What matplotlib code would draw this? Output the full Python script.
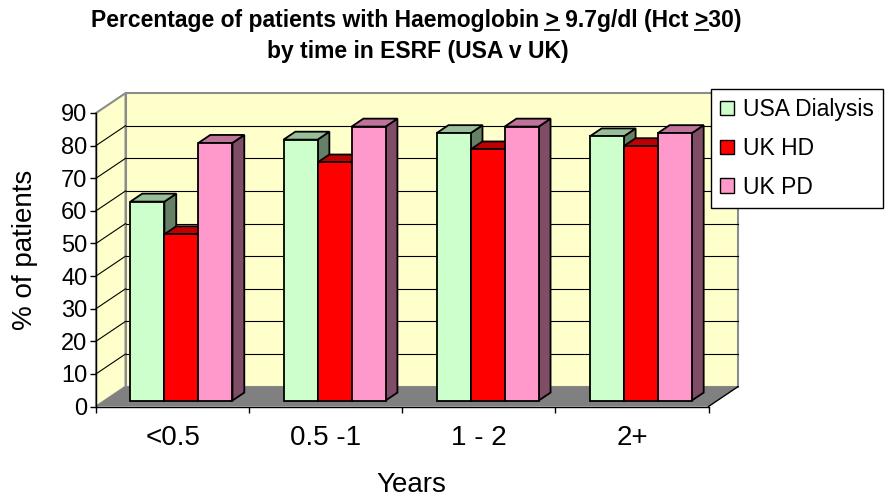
import matplotlib
matplotlib.use('Agg')
import matplotlib.pyplot as plt
from matplotlib.patches import Polygon, Patch
from matplotlib.lines import Line2D
from matplotlib.transforms import IdentityTransform

# ---------------- data ----------------
categories = ['<0.5', '0.5 -1', '1 - 2', '2+']
series_names = ['USA Dialysis', 'UK HD', 'UK PD']
usa_dialysis = [61, 80, 82, 81]
uk_hd = [51, 73, 77, 78]
uk_pd = [79, 84, 84, 82]
y_ticks = [0, 10, 20, 30, 40, 50, 60, 70, 80, 90]
title_line1 = 'Percentage of patients with Haemoglobin > 9.7g/dl (Hct >30)'
title_line2 = 'by time in ESRF (USA v UK)'
y_label = '% of patients'
x_label = 'Years'

# ---------------- style ----------------
front_colors = ['#CCFFCC', '#FF0000', '#FF99CC']
top_colors = ['#99BF99', '#BF0000', '#BF7399']
side_colors = ['#668066', '#800000', '#804D66']
wall_color = '#FFFFCC'
floor_color = '#808080'
wall_edge = '#8C8C8C'

plt.rcParams['font.family'] = ['Liberation Sans', 'DejaVu Sans']

W, H = 888, 497
fig = plt.figure(figsize=(W / 100, H / 100), dpi=100)
fig.patch.set_facecolor('white')


def fx(px):
    return px / W


def fy(py):
    return 1 - py / H


# front plane of the 3-D box
ax = fig.add_axes([fx(96), fy(406.5), (708.5 - 96) / W, (406.5 - 113) / H])
n = len(categories)
ymax = y_ticks[-1]
ax.set_xlim(0, n)
ax.set_ylim(0, ymax)
ax.patch.set_visible(False)
for s in ('top', 'right'):
    ax.spines[s].set_visible(False)
for s in ('left', 'bottom'):
    ax.spines[s].set_color('black')
    ax.spines[s].set_linewidth(1.0)
    ax.spines[s].set_zorder(5)

# depth offsets (full depth of the box) in data units
DX = 0.193
DY = 6.1
Z0, Z1 = 0.3, 0.7  # bar front / back depth fraction

# walls and floor
ax.add_patch(Polygon([(0, 0), (DX, DY), (DX, ymax + DY), (0, ymax)],
                     closed=True, fc=wall_color, ec=wall_edge, lw=1.5,
                     clip_on=False, zorder=1))
ax.add_patch(Polygon([(DX, DY), (n + DX, DY), (n + DX, ymax + DY), (DX, ymax + DY)],
                     closed=True, fc=wall_color, ec=wall_edge, lw=1.5,
                     clip_on=False, zorder=1))
ax.add_patch(Polygon([(0, 0), (n, 0), (n + DX, DY), (DX, DY)],
                     closed=True, fc=floor_color, ec='none',
                     clip_on=False, zorder=1.2))
ax.plot([n, n + DX], [0, DY], color='black', lw=1.0, clip_on=False, zorder=1.3)

# gridlines on back wall and side wall
for v in y_ticks[1:-1]:
    ax.plot([DX, n + DX], [v + DY, v + DY], color='black', lw=0.8,
            clip_on=False, zorder=1.5)
    ax.plot([0, DX], [v, v + DY], color='black', lw=0.8,
            clip_on=False, zorder=1.5)

# bars
all_series = [usa_dialysis, uk_hd, uk_pd]
w = 1.0 / (len(all_series) + 1.5)
gap = 0.75 * w
zo = 3.0
for i in range(n):
    for j, vals in enumerate(all_series):
        v = vals[i]
        x0 = i + gap + j * w
        x1 = x0 + w
        fa, fb = x0 + Z0 * DX, x1 + Z0 * DX
        ba, bb = x0 + Z1 * DX, x1 + Z1 * DX
        y0f, y0b = Z0 * DY, Z1 * DY
        side = [(fb, y0f), (bb, y0b), (bb, v + y0b), (fb, v + y0f)]
        top = [(fa, v + y0f), (fb, v + y0f), (bb, v + y0b), (ba, v + y0b)]
        front = [(fa, y0f), (fb, y0f), (fb, v + y0f), (fa, v + y0f)]
        for pts, col in ((side, side_colors[j]), (top, top_colors[j]),
                         (front, front_colors[j])):
            ax.add_patch(Polygon(pts, closed=True, fc=col, ec='black', lw=1.3,
                                 joinstyle='miter', clip_on=False, zorder=zo))
            zo += 0.01

# axes ticks
ax.set_yticks(y_ticks)
ax.tick_params(axis='y', direction='out', length=4.3, width=1, pad=2,
               labelsize=17, colors='black')
ax.set_xticks(range(n + 1))
ax.set_xticklabels([''] * (n + 1))
ax.set_xticks([i + 0.5 for i in range(n)], minor=True)
ax.set_xticklabels(categories, minor=True)
ax.tick_params(axis='x', which='major', direction='out', length=4.3, width=1)
ax.tick_params(axis='x', which='minor', length=0, pad=13, labelsize=20)

# axis titles
fig.text(fx(25), fy(250), y_label, rotation=90, ha='center', va='center',
         fontsize=20)
fig.text(fx(411), fy(492), x_label, ha='center', va='baseline', fontsize=20)

# chart title
tprops = dict(fontsize=16.5, fontweight='bold', family='Liberation Sans')
t1 = fig.text(fx(416), fy(27), title_line1, ha='center', va='baseline', **tprops)
fig.text(fx(418), fy(58), title_line2, ha='center', va='baseline', **tprops)

# legend
handles = [Patch(facecolor=c, edgecolor='black', linewidth=1) for c in front_colors]
leg = fig.legend(handles, series_names, loc='upper left',
                 bbox_to_anchor=(fx(711), fy(89)), borderaxespad=0,
                 fontsize=16.5, frameon=True, fancybox=False, edgecolor='black',
                 framealpha=1, borderpad=0.4, labelspacing=0.69,
                 handlelength=0.6, handleheight=0.6, handletextpad=0.4)
leg.get_frame().set_linewidth(1.0)

# underline the ">" signs of the title (they stand for "greater or equal")
renderer = fig.canvas.get_renderer()
bb = t1.get_window_extent(renderer)


def text_width(s):
    tmp = fig.text(0, 0, s, **tprops)
    wdt = tmp.get_window_extent(renderer).width
    tmp.remove()
    return wdt


gt_w = text_width('>')
base_y = H - 27 - 3
for k, ch in enumerate(title_line1):
    if ch == '>':
        right = bb.x0 + text_width(title_line1[:k + 1])
        fig.add_artist(Line2D([right - gt_w, right], [base_y, base_y],
                              color='black', lw=1.3,
                              transform=IdentityTransform()))

fig.savefig('out.png', dpi=100)
